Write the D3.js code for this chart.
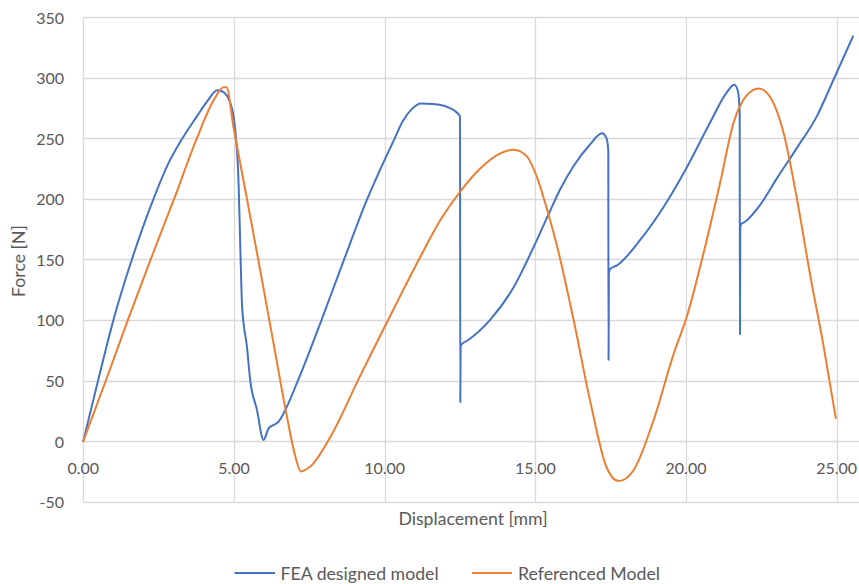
<!DOCTYPE html>
<html>
<head>
<meta charset="utf-8">
<script src="https://cdn.jsdelivr.net/npm/d3@7/dist/d3.min.js"></script>
<style>
  html, body { margin: 0; padding: 0; background: #ffffff; }
  svg { display: block; }
  text { font-family: Lato, "Open Sans", sans-serif; fill: #595959; }
</style>
</head>
<body>
<svg id="chart" width="859" height="584"></svg>
<script>
// ---- Data ----
const seriesNames = ["FEA designed model", "Referenced Model"];
const seriesColors = ["#4472C4", "#ED7D31"];

const feaX = [0, 0.5, 1.0, 1.6, 2.33, 2.8, 3.22, 3.77, 4.1, 4.45, 4.62, 4.88, 5.04, 5.15, 5.21, 5.27, 5.43, 5.54, 5.76, 5.98,
  6.15, 6.48, 6.65, 7.09, 7.86, 8.64, 9.41, 9.85, 10.3, 10.6, 10.9, 11.2, 11.6, 12.0, 12.3, 12.5, 12.51, 12.52, 12.56, 12.75,
  13.5, 14.28, 14.94, 15.38, 15.83, 16.27, 16.82, 17.21, 17.36, 17.42, 17.43, 17.44, 17.48, 17.71, 18.48, 19.25, 20.03,
  20.8, 21.36, 21.6, 21.72, 21.78, 21.79, 21.8, 21.83, 21.96, 22.46, 23.02, 23.68, 24.34, 24.89, 25.54];
const feaY = [0, 51, 100, 149, 200, 228, 247, 268, 280, 289.5, 288.5, 279, 257, 215, 160, 111, 78, 50, 26, 1,
  10.5, 16, 23, 48, 97, 149, 199, 224, 248, 264, 274, 278.7, 278.3, 276.5, 273, 268, 32, 78, 80, 83,
  100, 127, 160, 184, 208, 227, 245, 254, 250, 240, 67, 138, 142, 145, 166, 193, 226,
  263, 288, 294, 289, 272, 88, 176, 179, 181, 195, 217, 242, 268, 298, 334];

const refX = [0, 0.75, 1.48, 2.22, 3.0, 3.77, 4.32, 4.66, 4.75, 4.99, 5.43, 5.87, 6.31, 6.76, 7.03, 7.22, 7.53, 8.2,
  9.19, 9.85, 10.52, 11.18, 11.84, 12.51, 13.17, 13.84, 14.28, 14.72, 15.05, 15.38, 15.72, 16.27, 16.82, 17.37, 17.76,
  18.26, 18.92, 19.59, 20.03, 20.58, 21.13, 21.58, 22.02, 22.41, 22.79, 23.23, 23.68, 24.12, 24.56, 24.97];
const refY = [0, 50, 100, 149, 199, 250, 281, 292, 292, 258, 200, 141, 81, 20, -12, -25, -21, 3.5,
  54, 87, 120, 152, 182, 206, 225, 237.5, 240.5, 235, 218, 192, 161, 100, 33, -22, -33,
  -24, 17, 72, 103, 155, 213, 263, 285.5, 291, 284, 255, 200, 137, 79, 19];

const xTicks = [0, 5, 10, 15, 20, 25];
const yTicks = [-50, 0, 50, 100, 150, 200, 250, 300, 350];
const xTitle = "Displacement [mm]";
const yTitle = "Force [N]";

// ---- Layout ----
const svg = d3.select("#chart");
const W = 859, H = 584;
const x = d3.scaleLinear().domain([0, 30]).range([83.3, 83.3 + 30 * 30.136]);
const y = d3.scaleLinear().domain([-50, 350]).range([501.7, 17]);

const grid = svg.append("g");
grid.selectAll("line.h").data(yTicks).join("line")
  .attr("x1", x(0)).attr("x2", W)
  .attr("y1", d => Math.round(y(d)) + 0.5).attr("y2", d => Math.round(y(d)) + 0.5)
  .attr("stroke", "#d9d9d9").attr("stroke-width", 1.3);
grid.selectAll("line.v").data(xTicks).join("line")
  .attr("x1", d => Math.round(x(d)) + 0.5).attr("x2", d => Math.round(x(d)) + 0.5)
  .attr("y1", y(350)).attr("y2", y(-50))
  .attr("stroke", "#d9d9d9").attr("stroke-width", 1.3);

// y tick labels
svg.append("g").selectAll("text").data(yTicks).join("text")
  .attr("x", 64).attr("y", d => y(d))
  .attr("text-anchor", "end").attr("dominant-baseline", "central")
  .style("font-size", "16px")
  .text(d => d);

// x tick labels (below the zero line)
svg.append("g").selectAll("text").data(xTicks).join("text")
  .attr("x", d => x(d)).attr("y", y(0) + 26)
  .attr("text-anchor", "middle").attr("dominant-baseline", "central")
  .style("font-size", "16px")
  .text(d => d3.format(".2f")(d));

// axis titles
svg.append("text").attr("x", 473).attr("y", 518)
  .attr("text-anchor", "middle").attr("dominant-baseline", "central")
  .style("font-size", "17.7px").text(xTitle);
svg.append("text").attr("transform", "translate(18.5,261) rotate(-90)")
  .attr("text-anchor", "middle").attr("dominant-baseline", "central")
  .style("font-size", "17.7px").text(yTitle);

// lines
const line = d3.line()
  .x(d => x(d[0])).y(d => y(d[1]))
  .curve(d3.curveMonotoneX);

const fea = feaX.map((v, i) => [v, feaY[i]]);
const ref = refX.map((v, i) => [v, refY[i]]);

svg.append("path").datum(fea).attr("d", line)
  .attr("fill", "none").attr("stroke", seriesColors[0]).attr("stroke-width", 2)
  .attr("stroke-linejoin", "round").attr("stroke-linecap", "round");
svg.append("path").datum(ref).attr("d", line)
  .attr("fill", "none").attr("stroke", seriesColors[1]).attr("stroke-width", 2)
  .attr("stroke-linejoin", "round").attr("stroke-linecap", "round");

// legend
const legendItems = [
  { name: seriesNames[0], color: seriesColors[0], x1: 234.5, x2: 275, tx: 280.5 },
  { name: seriesNames[1], color: seriesColors[1], x1: 472, x2: 512, tx: 518 }
];
const lg = svg.append("g");
legendItems.forEach(it => {
  lg.append("line").attr("x1", it.x1).attr("x2", it.x2).attr("y1", 573).attr("y2", 573)
    .attr("stroke", it.color).attr("stroke-width", 2);
  lg.append("text").attr("x", it.tx).attr("y", 573)
    .attr("dominant-baseline", "central").style("font-size", "17.7px").text(it.name);
});
</script>
</body>
</html>
